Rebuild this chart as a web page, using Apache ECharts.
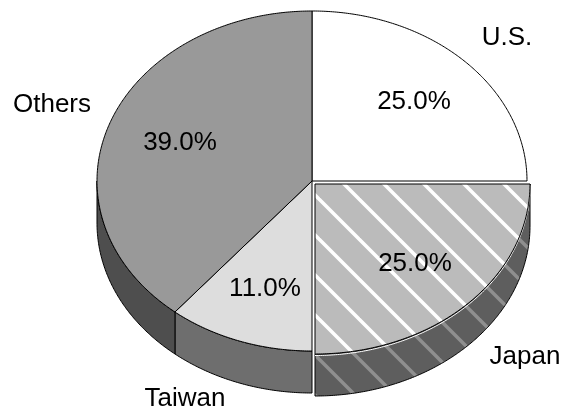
<!DOCTYPE html>
<html>
<head>
<meta charset="utf-8">
<script src="https://cdn.jsdelivr.net/npm/echarts@6/dist/echarts.min.js"></script>
<style>
  html, body { margin: 0; padding: 0; background: #fff; }
  #chart { width: 563px; height: 413px; }
</style>
</head>
<body>
<div id="chart"></div>
<script>
// Market share by region
const categories = ['U.S.', 'Japan', 'Taiwan', 'Others'];
const shares = [25.0, 25.0, 11.0, 39.0];

// Pie geometry (ellipse seen at a tilt, with a visible rim)
const CX = 312, CY = 181, RX = 215, RY = 170, DEPTH = 42;
const START_DEG = -90;                       // first slice starts at 12 o'clock, runs clockwise
const explodeOffset = [[0, 0], [3, 3], [0, 0], [0, 0]];
const topColors = ['#ffffff', '#bbbbbb', '#dddddd', '#999999'];
const sideColors = ['#8a8a8a', '#5e5e5e', '#6e6e6e', '#4e4e4e'];
const hatched = [false, true, false, false];
const valueLabelPos = [[414, 102], [415, 264], [265, 289], [180, 143]];
const nameLabelPos = [[507, 38], [525, 357], [185, 399], [52, 105]];
const FONT = '26px "Liberation Sans", Arial, sans-serif';

// Diagonal stripe fill used on the hatched slice
function stripePattern(bg, stripe) {
  const s = 40;
  const c = document.createElement('canvas');
  c.width = s; c.height = s;
  const g = c.getContext('2d');
  g.fillStyle = bg;
  g.fillRect(0, 0, s, s);
  g.strokeStyle = stripe;
  g.lineWidth = 3.5;
  for (const k of [-s, 0, s]) {
    g.beginPath();
    g.moveTo(-10, -10 + k);
    g.lineTo(s + 10, s + 10 + k);
    g.stroke();
  }
  return { image: c, repeat: 'repeat' };
}

const total = shares.reduce((a, b) => a + b, 0);
const starts = [];
shares.reduce((acc, v) => { starts.push(acc); return acc + v; }, 0);

function ellipsePoint(theta, ox, oy, drop) {
  return [CX + ox + RX * Math.cos(theta), CY + oy + RY * Math.sin(theta) + drop];
}

function arcPoints(a0, a1, ox, oy, drop) {
  const pts = [];
  const n = Math.max(2, Math.ceil(Math.abs(a1 - a0) / (Math.PI / 360)));
  for (let j = 0; j <= n; j++) {
    pts.push(ellipsePoint(a0 + (a1 - a0) * j / n, ox, oy, drop));
  }
  return pts;
}

function renderItem(params, api) {
  const i = params.dataIndex;
  const v = api.value(0);
  const a0 = (START_DEG + starts[i] / total * 360) * Math.PI / 180;
  const a1 = a0 + v / total * 2 * Math.PI;
  const [ox, oy] = explodeOffset[i];
  const children = [];

  // front rim: only the part of the arc that faces the viewer (lower half)
  for (const base of [0, 2 * Math.PI]) {
    const lo = Math.max(a0, base), hi = Math.min(a1, base + Math.PI);
    if (hi > lo) {
      const top = arcPoints(lo, hi, ox, oy, 0);
      const bottom = arcPoints(hi, lo, ox, oy, DEPTH);
      children.push({
        type: 'polygon',
        z2: 1,
        shape: { points: top.concat(bottom) },
        style: {
          fill: hatched[i] ? stripePattern(sideColors[i], '#8f8f8f') : sideColors[i],
          stroke: '#000',
          lineWidth: 1
        }
      });
      if (hatched[i]) {
        // light highlight just under the face edge of the pulled-out slice
        children.push({
          type: 'polyline',
          z2: 3,
          shape: { points: arcPoints(lo, hi, ox, oy, 1.5) },
          style: { stroke: '#ffffff', lineWidth: 1, fill: null }
        });
      }
    }
  }

  // top face
  const face = [[CX + ox, CY + oy]].concat(arcPoints(a0, a1, ox, oy, 0));
  children.push({
    type: 'polygon',
    z2: 5,
    shape: { points: face },
    style: {
      fill: hatched[i] ? stripePattern(topColors[i], '#ffffff') : topColors[i],
      stroke: '#000',
      lineWidth: 1
    }
  });

  // percentage inside the slice, name outside
  children.push({
    type: 'text', z2: 10,
    x: valueLabelPos[i][0], y: valueLabelPos[i][1],
    style: { text: v.toFixed(1) + '%', font: FONT, fill: '#000', align: 'center', verticalAlign: 'middle' }
  });
  children.push({
    type: 'text', z2: 10,
    x: nameLabelPos[i][0], y: nameLabelPos[i][1],
    style: { text: categories[i], font: FONT, fill: '#000', align: 'center', verticalAlign: 'middle' }
  });

  return { type: 'group', children };
}

const chart = echarts.init(document.getElementById('chart'), null, { renderer: 'canvas' });
chart.setOption({
  animation: false,
  backgroundColor: '#ffffff',
  series: [{
    type: 'custom',
    coordinateSystem: 'none',
    data: shares.map((v, i) => ({ name: categories[i], value: [v] })),
    renderItem
  }]
});
</script>
</body>
</html>
